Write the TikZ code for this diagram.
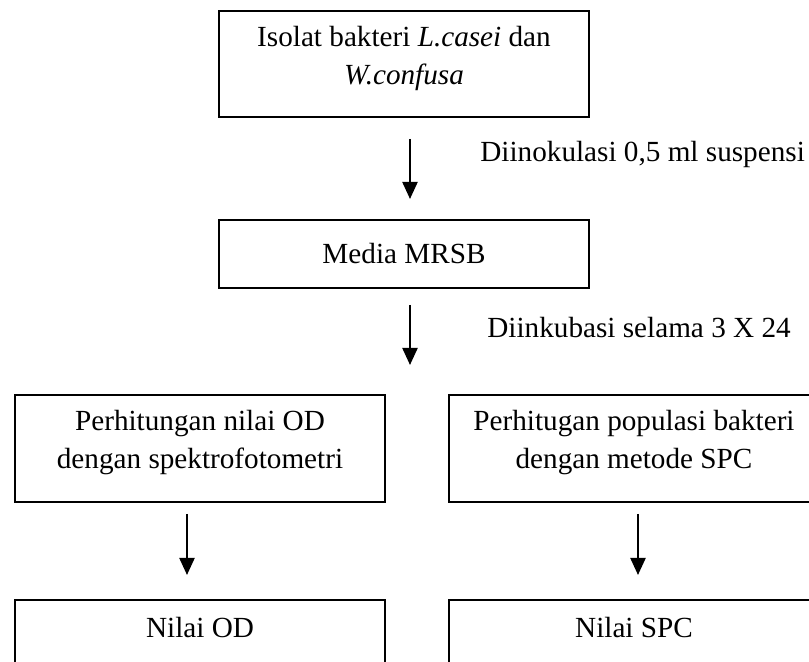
\documentclass[tikz,border=0pt]{standalone}
\usepackage{fontspec}
\setmainfont{Liberation Serif}
\usetikzlibrary{arrows.meta}
\tikzset{
  box/.style = {draw, line width=1pt, minimum width=185pt, align=center,
                font=\fontsize{14.6pt}{19pt}\selectfont},
  flow/.style = {-{Triangle[length=8.5pt,width=7.5pt]}, line width=1.1pt},
  note/.style = {anchor=west, inner sep=0pt, font=\fontsize{14.6pt}{19pt}\selectfont}
}
\begin{document}
\begin{tikzpicture}[x=0.5pt,y=-0.5pt]
    \useasboundingbox (0,0) rectangle (809,662);
    \node [box, minimum height=53pt, text depth=9pt] (isolat) at (404,64)
      {Isolat bakteri \textit{L.casei} dan\\\textit{W.confusa}};
    \node [box, minimum height=34pt] (media) at (404,254) {Media MRSB};
    \node [box, minimum height=53.5pt, text depth=9pt] (hitungod) at (200,448.5)
      {Perhitungan nilai OD\\dengan spektrofotometri};
    \node [box, minimum height=53.5pt, text depth=9pt] (hitungspc) at (634,448.5)
      {Perhitugan populasi bakteri\\dengan metode SPC};
    \node [box, minimum height=33pt, text depth=6pt] (nilaiod) at (200,633) {Nilai OD};
    \node [box, minimum height=33pt, text depth=6pt] (nilaispc) at (634,633) {Nilai SPC};
    \coordinate (split) at (410,365);
    % keterangan panah
    \node [note] (inokulasi) at (480,154) {Diinokulasi 0,5 ml suspensi};
    \node [note] (inkubasi) at (487,328) {Diinkubasi selama 3 X 24};
    % panah
    \draw [flow] ([xshift=3pt,yshift=-10.5pt]isolat.south) -- ([xshift=3pt,yshift=10pt]media.north);
    \draw [flow] ([xshift=3pt,yshift=-8pt]media.south) -- (split);
    \draw [flow] ([xshift=-6.5pt,yshift=-5.5pt]hitungod.south) -- ([xshift=-6.5pt,yshift=12pt]nilaiod.north);
    \draw [flow] ([xshift=2pt,yshift=-5.5pt]hitungspc.south) -- ([xshift=2pt,yshift=12pt]nilaispc.north);
  \end{tikzpicture}
\end{document}
